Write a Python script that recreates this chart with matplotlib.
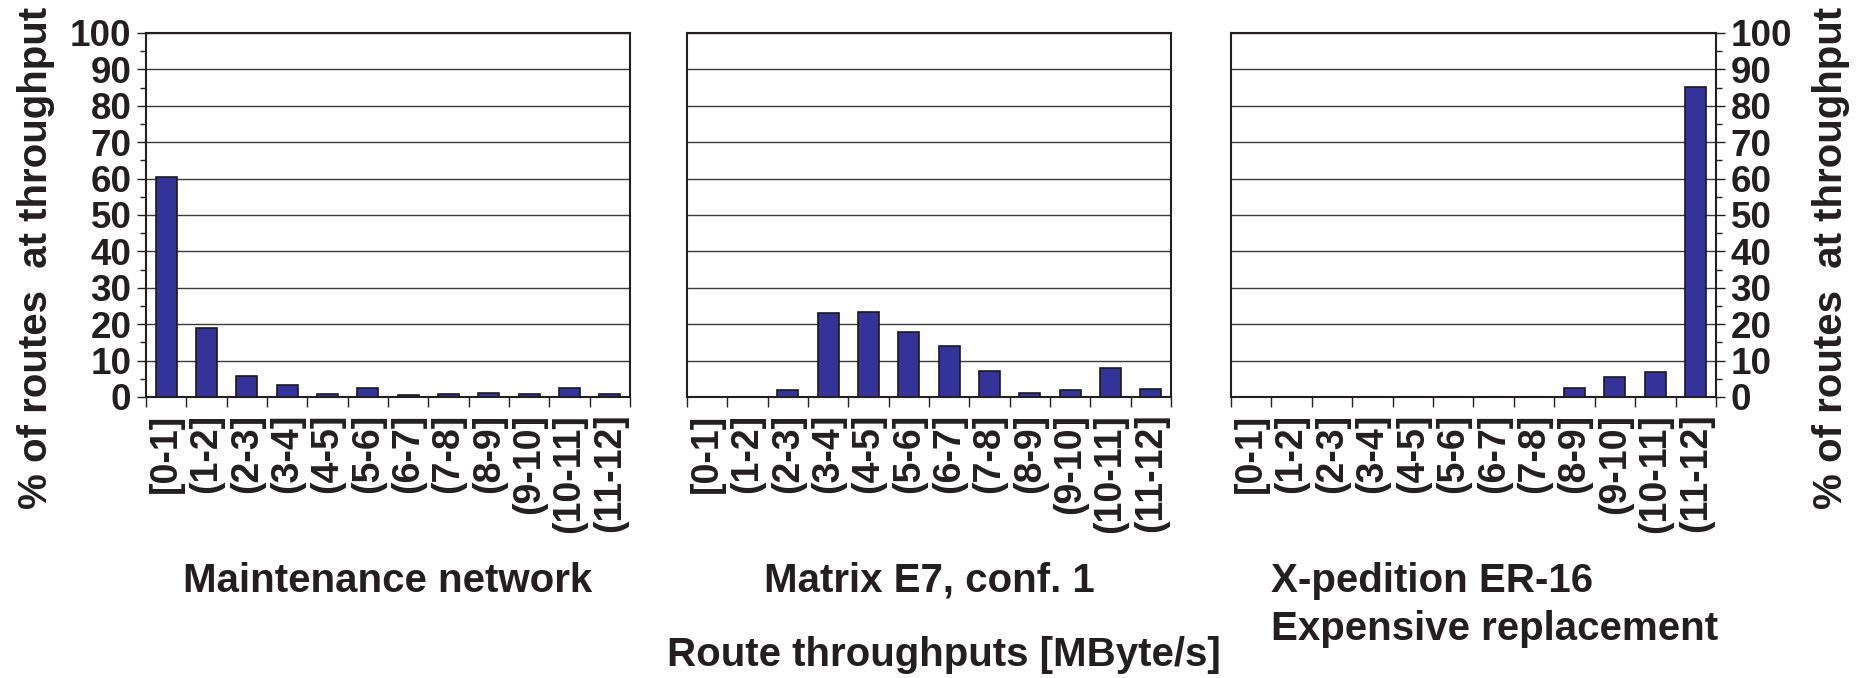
import matplotlib
matplotlib.use("Agg")
import matplotlib.pyplot as plt
import numpy as np
from matplotlib.ticker import MultipleLocator

plt.rcParams["font.family"] = ["Liberation Sans", "DejaVu Sans"]
plt.rcParams["font.weight"] = "bold"

bins = ["[0-1]", "(1-2]", "(2-3]", "(3-4]", "(4-5]", "(5-6]",
        "(6-7]", "(7-8]", "(8-9]", "(9-10]", "(10-11]", "(11-12]"]

maintenance = [60.5, 19, 5.7, 3.2, 0.9, 2.6, 0.5, 0.9, 1.1, 0.9, 2.6, 0.7]
matrix_e7 = [0.1, 0.1, 2.0, 23.1, 23.4, 17.8, 14.1, 7.2, 1.0, 1.9, 7.9, 2.3]
xpedition = [0, 0, 0, 0, 0, 0, 0, 0.1, 2.5, 5.4, 7.0, 85.2]

titles = ["Maintenance network", "Matrix E7, conf. 1", "X-pedition ER-16\nExpensive replacement"]
ylabel = "% of routes  at throughput"
xlabel = "Route throughputs [MByte/s]"

W, H = 1858, 678
TXT = "#231f20"
BAR = "#333399"

fig = plt.figure(figsize=(W / 100, H / 100), dpi=100)

# panel positions in pixels (left, right)
panels = [(146, 630), (687, 1171), (1231, 1716)]
top, bottom = 33, 397

series = [maintenance, matrix_e7, xpedition]
x = np.arange(len(bins))

for i, ((l, r), vals) in enumerate(zip(panels, series)):
    ax = fig.add_axes([l / W, 1 - bottom / H, (r - l) / W, (bottom - top) / H])
    ax.bar(x, vals, width=0.52, color=BAR, edgecolor="#1a1a1a", linewidth=1.2, zorder=3)
    ax.set_xlim(-0.5, len(bins) - 0.5)
    ax.set_ylim(0, 100)
    ax.yaxis.set_major_locator(MultipleLocator(10))
    ax.yaxis.set_minor_locator(MultipleLocator(5))
    ax.grid(axis="y", which="major", color="#3a3a3a", linewidth=1.0, zorder=0)
    for s in ax.spines.values():
        s.set_linewidth(1.5)
        s.set_color(TXT)

    ax.set_xticks(x)
    ax.set_xticklabels(bins, rotation=90, fontsize=27, fontweight="bold", color=TXT, va="top")
    ax.set_xticks(np.arange(len(bins) + 1) - 0.5, minor=True)
    ax.tick_params(axis="x", which="major", length=0, pad=12)
    ax.tick_params(axis="x", which="minor", length=7, width=1.0, color=TXT, direction="out")

    if i == 0:
        ax.tick_params(axis="y", which="major", length=6.5, width=1.0, color=TXT,
                       labelsize=26.5, labelcolor=TXT, pad=4)
        ax.tick_params(axis="y", which="minor", length=4.3, width=1.0, color=TXT)
    elif i == 2:
        ax.yaxis.tick_right()
        ax.tick_params(axis="y", which="major", length=6.5, width=1.0, color=TXT,
                       labelsize=26.5, labelcolor=TXT, pad=4)
        ax.tick_params(axis="y", which="minor", length=4.3, width=1.0, color=TXT)
    else:
        ax.tick_params(axis="y", which="both", length=0, labelleft=False)
    for lab in ax.get_yticklabels():
        lab.set_fontweight("bold")

    if i < 2:
        fig.text(((l + r) / 2) / W, 1 - 581 / H, titles[i], ha="center", va="center",
                 fontsize=29, fontweight="bold", color=TXT)
    else:
        fig.text(1271 / W, 1 - 605 / H, titles[i], ha="left", va="center",
                 fontsize=29, fontweight="bold", color=TXT, linespacing=1.3)

fig.text(36 / W, 1 - 258 / H, ylabel, rotation=90, ha="center", va="center",
         fontsize=29, fontweight="bold", color=TXT)
fig.text(1831 / W, 1 - 258 / H, ylabel, rotation=90, ha="center", va="center",
         fontsize=29, fontweight="bold", color=TXT)
fig.text(944 / W, 1 - 655 / H, xlabel, ha="center", va="center",
         fontsize=29, fontweight="bold", color=TXT)

fig.savefig("out.png", dpi=100, facecolor="white")
